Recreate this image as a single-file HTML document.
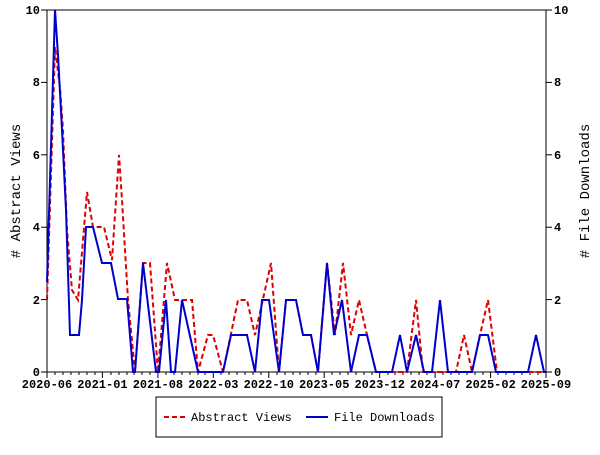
<!DOCTYPE html>
<html><head><meta charset="utf-8"><style>
html,body{margin:0;padding:0;background:#fff;}
svg text{font-family:"Liberation Mono","DejaVu Sans Mono",monospace;font-size:12px;fill:#000;}
</style></head><body>
<svg width="600" height="450" viewBox="0 0 600 450" xmlns="http://www.w3.org/2000/svg">
<rect width="600" height="450" fill="#fff"/>
<rect x="47" y="10" width="499" height="362" fill="none" stroke="#000" stroke-width="1"/>
<g stroke="#000" stroke-width="1">
<line x1="41" y1="372" x2="47" y2="372"/><line x1="41" y1="299.6" x2="47" y2="299.6"/><line x1="41" y1="227.2" x2="47" y2="227.2"/><line x1="41" y1="154.8" x2="47" y2="154.8"/><line x1="41" y1="82.4" x2="47" y2="82.4"/><line x1="41" y1="10" x2="47" y2="10"/>
<line x1="546" y1="372" x2="552" y2="372"/><line x1="546" y1="299.6" x2="552" y2="299.6"/><line x1="546" y1="227.2" x2="552" y2="227.2"/><line x1="546" y1="154.8" x2="552" y2="154.8"/><line x1="546" y1="82.4" x2="552" y2="82.4"/><line x1="546" y1="10" x2="552" y2="10"/>
<line x1="47" y1="372" x2="47" y2="378"/><line x1="102.4" y1="372" x2="102.4" y2="378"/><line x1="157.9" y1="372" x2="157.9" y2="378"/><line x1="213.3" y1="372" x2="213.3" y2="378"/><line x1="268.8" y1="372" x2="268.8" y2="378"/><line x1="324.2" y1="372" x2="324.2" y2="378"/><line x1="379.7" y1="372" x2="379.7" y2="378"/><line x1="435.1" y1="372" x2="435.1" y2="378"/><line x1="490.6" y1="372" x2="490.6" y2="378"/><line x1="546" y1="372" x2="546" y2="378"/>
</g>
<g stroke="#000" stroke-width="1">
<path d="M55,372v3M63,372v3M71,372v3M79,372v3M87,372v3M95,372v3M111,372v3M119,372v3M127,372v3M134,372v3M142,372v3M150,372v3M166,372v3M174,372v3M182,372v3M190,372v3M198,372v3M205,372v3M221,372v3M229,372v3M237,372v3M245,372v3M253,372v3M261,372v3M277,372v3M285,372v3M293,372v3M300,372v3M308,372v3M316,372v3M332,372v3M340,372v3M348,372v3M356,372v3M364,372v3M372,372v3M388,372v3M395,372v3M403,372v3M411,372v3M419,372v3M427,372v3M443,372v3M451,372v3M459,372v3M467,372v3M475,372v3M483,372v3M498,372v3M506,372v3M514,372v3M522,372v3M530,372v3M538,372v3"/>
</g>
<g font-weight="bold" text-anchor="end">
<text x="40" y="376">0</text><text x="40" y="304">2</text><text x="40" y="231">4</text><text x="40" y="159">6</text><text x="40" y="86">8</text><text x="40" y="14">10</text>
</g>
<g font-weight="bold" text-anchor="start">
<text x="554" y="376">0</text><text x="554" y="304">2</text><text x="554" y="231">4</text><text x="554" y="159">6</text><text x="554" y="86">8</text><text x="554" y="14">10</text>
</g>
<g font-weight="bold" text-anchor="middle">
<text x="47" y="388">2020-06</text><text x="102.4" y="388">2021-01</text><text x="157.9" y="388">2021-08</text><text x="213.3" y="388">2022-03</text><text x="268.8" y="388">2022-10</text><text x="324.2" y="388">2023-05</text><text x="379.7" y="388">2023-12</text><text x="435.1" y="388">2024-07</text><text x="490.6" y="388">2025-02</text><text x="546" y="388">2025-09</text>
</g>
<text transform="translate(20,191) rotate(-90)" text-anchor="middle" style="font-size:14px"># Abstract Views</text>
<text transform="translate(589,191) rotate(-90)" text-anchor="middle" style="font-size:14px"># File Downloads</text>
<polyline fill="none" stroke="#dd0000" stroke-width="2" stroke-dasharray="5,3" points="47,300 55,47 60,88 63,130 67,230 72,290 78,300 87,192 93,227 104,227 112,260 119,155 122,200 128,300 135,372 143,263 150,263 158,372 167,263 175,300 192,300 198,372 208,335 213,335 223,372 238,300 247,300 255,335 271,263 279,372 286,300 296,300 303,335 311,335 318,372 327,263 335,335 343,263 351,335 359,300 367,335 376,372 407,372 416,300 423,372 456,372 464,335 472,372 480,335 488,300 497,372 546,372"/>
<polyline fill="none" stroke="#0000cc" stroke-width="2" points="47,282 55,10 58,55 62,130 66,210 70,335 79,335 82,300 86,227 93,227 102,263 111,263 118,299 127,299 133,372 135,372 143,263 156,372 159,372 166,300 171,372 175,372 182,300 198,372 223,372 231,335 247,335 255,372 262,300 269,300 279,372 286,300 296,300 303,335 311,335 318,372 327,263 334,335 342,300 351,372 359,335 367,335 376,372 392,372 400,335 407,372 416,335 424,372 432,372 440,300 448,372 472,372 480,335 488,335 496,372 528,372 536,335 544,372 546,372"/>
<rect x="156" y="397" width="286" height="40" fill="#fff" stroke="#000" stroke-width="1"/>
<line x1="164" y1="417" x2="186" y2="417" stroke="#dd0000" stroke-width="2" stroke-dasharray="5,3"/>
<text x="191" y="421">Abstract Views</text>
<line x1="306" y1="417" x2="328" y2="417" stroke="#0000cc" stroke-width="2"/>
<text x="334" y="421">File Downloads</text>
</svg>
</body></html>
